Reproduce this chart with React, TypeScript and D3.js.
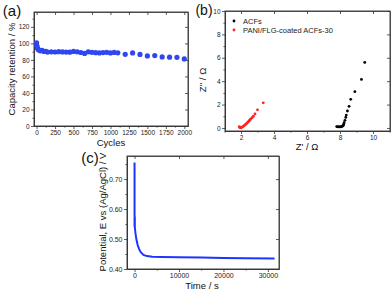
import { useEffect, useRef } from 'react';
import * as d3 from 'd3';

// (a) cycling stability
const cycles = [0, 5, 10, 20, 30, 50, 75, 100, 125, 150, 200, 250, 300, 350, 400, 450, 500, 550, 600, 650, 700, 750, 800, 850, 900, 950, 1000, 1050, 1100, 1200, 1300, 1400, 1500, 1600, 1700, 1800, 1900, 2000];
const retention = [100.8, 97, 94.5, 93, 92, 91, 91.5, 90.2, 90.5, 89.5, 89.8, 89.6, 90, 89.7, 89.5, 89.4, 90.3, 89.8, 89, 87.8, 89.8, 89.2, 88.8, 88.4, 88.9, 89.2, 88.5, 89.1, 88.6, 86.8, 88.4, 86.7, 84.8, 85.2, 83.6, 83.3, 83.1, 81.2];
const cycleTicks = [0, 250, 500, 750, 1000, 1250, 1500, 1750, 2000];
const retentionTicks = [0, 20, 40, 60, 80, 100, 120];

// (b) Nyquist plots
const acfRe = [7.8, 7.85, 7.9, 7.95, 8.0, 8.05, 8.1, 8.15, 8.2, 8.22, 8.25, 8.3, 8.35, 8.38, 8.45, 8.55, 8.65, 8.9, 9.3, 9.5];
const acfIm = [0.12, 0.1, 0.1, 0.1, 0.1, 0.1, 0.12, 0.15, 0.22, 0.3, 0.45, 0.65, 0.9, 1.1, 1.45, 1.85, 2.45, 3.1, 4.15, 5.6];
const paniRe = [1.9, 1.92, 1.95, 2.0, 2.05, 2.1, 2.15, 2.2, 2.25, 2.3, 2.35, 2.4, 2.45, 2.5, 2.55, 2.6, 2.67, 2.75, 2.85, 3.0, 3.35];
const paniIm = [0.12, 0.03, 0.05, 0.02, 0.05, 0.1, 0.15, 0.2, 0.27, 0.33, 0.4, 0.48, 0.55, 0.62, 0.7, 0.78, 0.88, 1.0, 1.2, 1.55, 2.15];
const reTicks = [2, 4, 6, 8, 10];
const imTicks = [0, 2, 4, 6, 8, 10];

// (c) open circuit potential vs time
const time = [0, 0, 60, 60, 200, 400, 700, 1000, 1400, 2000, 2800, 4000, 6000, 10000, 15000, 20000, 25000, 31500];
const potential = [0.755, 0.54, 0.575, 0.54, 0.52, 0.5, 0.48, 0.467, 0.456, 0.447, 0.443, 0.441, 0.44, 0.439, 0.438, 0.437, 0.436, 0.435];
const timeTicks = [0, 10000, 20000, 30000];
const potentialTicks = [0.4, 0.5, 0.6, 0.7];

const FONT = 'Liberation Sans, Arial, sans-serif';
const INK = '#333';

function frame(g, x, y, xt, yt, xm, ym, fs, xfmt?) {
  const [x0, x1] = x.range();
  const [y0, y1] = y.range();
  const style = (s) => {
    s.attr('font-family', FONT).attr('font-size', fs);
    s.selectAll('line,path').attr('stroke', INK).attr('stroke-width', 0.8);
    s.selectAll('text').attr('fill', '#222');
  };
  const bottom = d3.axisBottom(x).tickValues(xt).tickSize(3).tickSizeOuter(0).tickPadding(1.5);
  if (xfmt) bottom.tickFormat(xfmt);
  g.append('g').attr('transform', `translate(0,${y0})`).call(bottom).call(style);
  g.append('g').attr('transform', `translate(0,${y0})`)
    .call(d3.axisBottom(x).tickValues(xm).tickSize(1.6).tickSizeOuter(0).tickFormat(() => '')).call(style);
  g.append('g').attr('transform', `translate(${x0},0)`)
    .call(d3.axisLeft(y).tickValues(yt).tickSize(3).tickSizeOuter(0).tickPadding(1.5)).call(style);
  g.append('g').attr('transform', `translate(${x0},0)`)
    .call(d3.axisLeft(y).tickValues(ym).tickSize(1.6).tickSizeOuter(0).tickFormat(() => '')).call(style);
  // mirrored inward ticks on top and right
  g.append('g').attr('transform', `translate(0,${y1})`)
    .call(d3.axisBottom(x).tickValues(xt).tickSize(3).tickSizeOuter(0).tickFormat(() => '')).call(style);
  g.append('g').attr('transform', `translate(${x1},0)`)
    .call(d3.axisLeft(y).tickValues(yt).tickSize(3).tickSizeOuter(0).tickFormat(() => '')).call(style);
  g.append('rect').attr('x', x0).attr('y', y1).attr('width', x1 - x0).attr('height', y0 - y1)
    .attr('fill', 'none').attr('stroke', INK).attr('stroke-width', 0.9);
}

function title(svg, txt, x, y, fs, rot = false) {
  svg.append('text').text(txt)
    .attr('transform', rot ? `translate(${x},${y}) rotate(-90)` : `translate(${x},${y})`)
    .attr('text-anchor', 'middle').attr('font-family', FONT).attr('font-size', fs).attr('fill', '#111');
}

export default function App() {
  const ref = useRef(null);

  useEffect(() => {
    const svg = d3.select(ref.current);
    svg.selectAll('*').remove();
    const intFmt = d3.format('d');

    // ---- (a)
    const xa = d3.scaleLinear().domain([-35, 2050]).range([34, 188]);
    const ya = d3.scaleLinear().domain([0, 138]).range([126, 12]);
    const ga = svg.append('g');
    frame(ga, xa, ya, cycleTicks, retentionTicks, d3.range(125, 2000, 250), d3.range(10, 138, 20), 6.5, intFmt);
    ga.selectAll('.pt').data(cycles).join('circle')
      .attr('cx', (d) => xa(d)).attr('cy', (d, i) => ya(retention[i])).attr('r', 2.6).attr('fill', '#2f47f2');
    title(svg, 'Capacity retention / %', 15, 69, 9.5, true);
    title(svg, 'Cycles', 111, 146, 9.5);
    title(svg, '(a)', 12, 16, 15);

    // ---- (b)
    const xb = d3.scaleLinear().domain([1.03, 11.03]).range([225, 390]);
    const yb = d3.scaleLinear().domain([-0.26, 10]).range([131, 11]);
    const gb = svg.append('g');
    frame(gb, xb, yb, reTicks, imTicks, d3.range(1, 12, 2), d3.range(1, 10, 2), 6.5);
    gb.append('g').selectAll('circle').data(paniRe).join('circle')
      .attr('cx', (d) => xb(d)).attr('cy', (d, i) => yb(paniIm[i])).attr('r', 1.4).attr('fill', '#f22');
    gb.append('g').selectAll('circle').data(acfRe).join('circle')
      .attr('cx', (d) => xb(d)).attr('cy', (d, i) => yb(acfIm[i])).attr('r', 1.4).attr('fill', '#000');
    const legend = [['ACFs', '#000'], ['PANI/FLG-coated ACFs-30', '#f22']];
    legend.forEach(([name, c], i) => {
      gb.append('circle').attr('cx', 234).attr('cy', 21 + i * 9).attr('r', 1.4).attr('fill', c);
      gb.append('text').text(name).attr('x', 243).attr('y', 23.8 + i * 9)
        .attr('font-family', FONT).attr('font-size', 7.5).attr('fill', '#222');
    });
    title(svg, "Z'' / \u03a9", 206, 80, 9.5, true);
    title(svg, "Z' / \u03a9", 307, 150, 9.5);
    title(svg, '(b)', 204, 15, 14);

    // ---- (c)
    const xc = d3.scaleLinear().domain([-1700, 32500]).range([127, 279]);
    const yc = d3.scaleLinear().domain([0.4, 0.777]).range([269, 156]);
    const gc = svg.append('g');
    frame(gc, xc, yc, timeTicks, potentialTicks, d3.range(5000, 32000, 10000), [0.45, 0.55, 0.65, 0.75], 7, intFmt);
    const line = d3.line().x((d, i) => xc(time[i])).y((d) => yc(d));
    gc.append('path').attr('d', line(potential)).attr('fill', 'none')
      .attr('stroke', '#1f35ff').attr('stroke-width', 2);
    title(svg, 'Potential, E vs (Ag/AgCl) / V', 106, 212, 9.5, true);
    title(svg, 'Time / s', 202, 289, 9.5);
    title(svg, '(c)', 90, 163, 15);
  }, []);

  return (
    <div style={{ position: 'absolute', left: 0, top: 0 }}>
      <svg ref={ref} width={392} height={292} style={{ background: '#fff', display: 'block' }} />
    </div>
  );
}
